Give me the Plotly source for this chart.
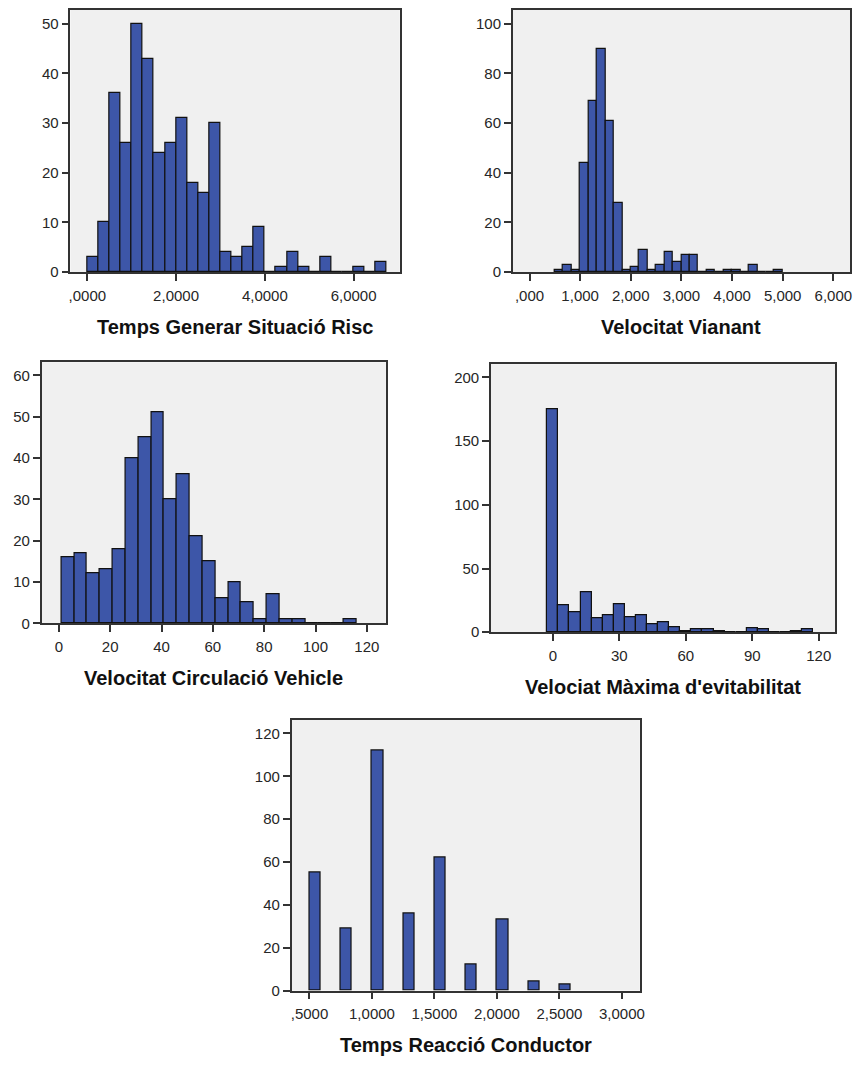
import numpy as np
import plotly.graph_objects as go

# ---- histogram data (bin start, bin width, counts per bin) ----
risc_start, risc_width = 0.0, 0.25
risc_counts = [3, 10, 36, 26, 50, 43, 24, 26, 31, 18, 16, 30, 4, 3, 5, 9,
               0, 1, 4, 1, 0, 3, 0, 0, 1, 0, 2]
risc_ticks = [0, 2, 4, 6]
risc_ticktext = [",0000", "2,0000", "4,0000", "6,0000"]
risc_yticks = [0, 10, 20, 30, 40, 50]

vian_start, vian_width = 0.5, 1 / 6
vian_counts = [1, 3, 1, 44, 69, 90, 61, 28, 1, 2, 9, 1, 3, 8, 4, 7, 7, 0,
               1, 0, 1, 1, 0, 3, 0, 0, 1]
vian_ticks = [0, 1, 2, 3, 4, 5, 6]
vian_ticktext = [",000", "1,000", "2,000", "3,000", "4,000", "5,000", "6,000"]
vian_yticks = [0, 20, 40, 60, 80, 100]

circ_start, circ_width = 1.0, 5.0
circ_counts = [16, 17, 12, 13, 18, 40, 45, 51, 30, 36, 21, 15, 6, 10, 5, 1,
               7, 1, 1, 0, 0, 0, 1]
circ_ticks = [0, 20, 40, 60, 80, 100, 120]
circ_yticks = [0, 10, 20, 30, 40, 50, 60]

evit_start, evit_width = -2.5, 5.0
evit_counts = [175, 21, 16, 31, 11, 13, 22, 12, 13, 6, 8, 4, 1, 2, 2, 1,
               0, 0, 3, 2, 0, 0, 1, 2]
evit_ticks = [0, 30, 60, 90, 120]
evit_yticks = [0, 50, 100, 150, 200]

reac_values = [0.5, 0.75, 1.0, 1.25, 1.5, 1.75, 2.0, 2.25, 2.5]
reac_counts = [55, 29, 112, 36, 62, 12, 33, 4, 3]
reac_width = 0.09
reac_ticks = [0.5, 1.0, 1.5, 2.0, 2.5, 3.0]
reac_ticktext = [",5000", "1,0000", "1,5000", "2,0000", "2,5000", "3,0000"]
reac_yticks = [0, 20, 40, 60, 80, 100, 120]

# ---- figure geometry ----
W, H = 858, 1066
BAR_FILL = "#3D56A8"
PLOT_BG = "#F0F0F0"
FRAME = "#333333"
FONT = "Liberation Sans, Arial, sans-serif"

fig = go.Figure()


def px_domain_x(a, b):
    return [a / W, b / W]


def px_domain_y(top, bottom):
    return [1 - bottom / H, 1 - top / H]


panels = [
    dict(x=risc_start + risc_width * (np.arange(len(risc_counts)) + 0.5),
         y=risc_counts, w=risc_width, xr=[-0.38, 7.04], yr=[0, 52.8],
         xt=risc_ticks, xtt=risc_ticktext, yt=risc_yticks,
         title="Temps Generar Situació Risc", box=(69, 401, 10, 274)),
    dict(x=vian_start + vian_width * (np.arange(len(vian_counts)) + 0.5),
         y=vian_counts, w=vian_width, xr=[-0.33, 6.33], yr=[0, 105.6],
         xt=vian_ticks, xtt=vian_ticktext, yt=vian_yticks,
         title="Velocitat Vianant", box=(515, 855, 10, 274)),
    dict(x=circ_start + circ_width * (np.arange(len(circ_counts)) + 0.5),
         y=circ_counts, w=circ_width, xr=[-6.7, 127.4], yr=[0, 63.2],
         xt=circ_ticks, xtt=[str(t) for t in circ_ticks], yt=circ_yticks,
         title="Velocitat Circulació Vehicle", box=(40, 387, 365, 628)),
    dict(x=evit_start + evit_width * (np.arange(len(evit_counts)) + 0.5),
         y=evit_counts, w=evit_width, xr=[-27.9, 127.4], yr=[0, 210.4],
         xt=evit_ticks, xtt=[str(t) for t in evit_ticks], yt=evit_yticks,
         title="Velociat Màxima d'evitabilitat", box=(493, 840, 367, 637)),
    dict(x=np.array(reac_values) + reac_width / 2,
         y=reac_counts, w=reac_width, xr=[0.357, 3.143], yr=[0, 126.5],
         xt=reac_ticks, xtt=reac_ticktext, yt=reac_yticks,
         title="Temps Reacció Conductor", box=(292, 643, 725, 998)),
]

layout_axes = {}
annotations = []
for i, p in enumerate(panels, start=1):
    sx = "" if i == 1 else str(i)
    left, right, top, bottom = p["box"]
    fig.add_trace(go.Bar(
        x=p["x"], y=p["y"], width=p["w"],
        xaxis="x" + sx, yaxis="y" + sx,
        marker=dict(color=BAR_FILL, line=dict(color="#111111", width=1.2)),
        showlegend=False, hoverinfo="x+y",
    ))
    common = dict(showline=True, linecolor=FRAME, linewidth=1.5, mirror=True,
                  showgrid=False, zeroline=False, ticks="outside", ticklen=7,
                  tickwidth=1.5, tickcolor=FRAME,
                  tickfont=dict(family=FONT, size=15, color="#262626"))
    layout_axes["xaxis" + sx] = dict(
        common, domain=px_domain_x(left, right), range=p["xr"],
        anchor="y" + sx, tickvals=p["xt"], ticktext=p["xtt"],
        ticklabelstandoff=2)
    layout_axes["yaxis" + sx] = dict(
        common, domain=px_domain_y(top, bottom), range=p["yr"],
        anchor="x" + sx, tickvals=p["yt"], ticklabelstandoff=0)
    annotations.append(dict(
        text=p["title"], xref="x" + sx + " domain", x=0.5,
        yref="paper", y=1 - (bottom + 55) / H, yanchor="middle",
        xanchor="center", showarrow=False,
        font=dict(family=FONT, size=20, color="#111111", weight="bold")))

fig.update_layout(
    width=W, height=H,
    margin=dict(l=0, r=0, t=0, b=0),
    paper_bgcolor="white", plot_bgcolor=PLOT_BG,
    bargap=0, annotations=annotations,
    **layout_axes,
)

fig.write_html("out.html")
